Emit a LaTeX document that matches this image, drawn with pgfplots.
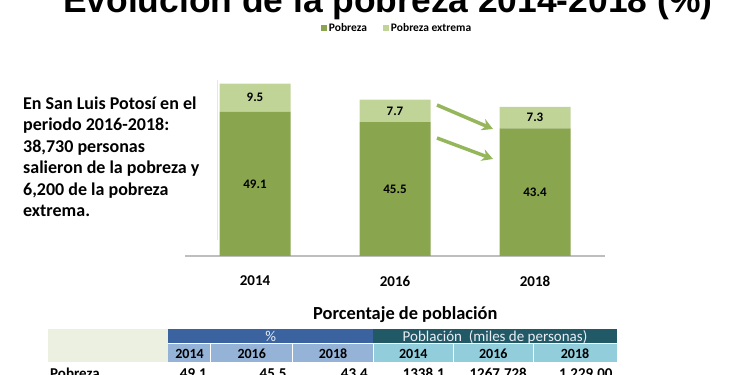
\documentclass[border=0pt]{standalone}
\usepackage{pgfplots}
\pgfplotsset{compat=1.18}
\usepackage{pgfplotstable}
\usepackage{fontspec}
\setmainfont{Carlito}
\newfontfamily\titlefont{Liberation Sans}
\usetikzlibrary{arrows.meta}
\definecolor{pobdark}{RGB}{137,165,78}
\definecolor{poblight}{RGB}{192,212,152}
\definecolor{arrowgreen}{RGB}{150,182,92}
\definecolor{tabbeige}{RGB}{235,240,224}
\definecolor{tabblue}{RGB}{58,99,160}
\definecolor{tablightblue}{RGB}{149,179,215}
\definecolor{tabteal}{RGB}{33,89,103}
\definecolor{tabcyan}{RGB}{146,205,220}
\definecolor{axisgray}{RGB}{190,190,190}
\definecolor{boxline}{RGB}{226,236,208}
\definecolor{headtext}{RGB}{235,238,245}
\pgfplotstableread{
x pob ext
0 49.1 9.5
1 45.5 7.7
2 43.4 7.3
}\datatable
\begin{document}
\begin{tikzpicture}[x=1pt,y=1pt]
\begin{axis}[
  at={(185pt,119pt)}, anchor=south west,
  scale only axis, width=420pt, height=176.4pt,
  ybar stacked, bar width=71pt,
  xmin=-0.5, xmax=2.5, ymin=0, ymax=60,
  axis x line=bottom, axis y line=none,
  x axis line style={draw=axisgray, line width=1.5pt, -},
  xtick={0,1,2}, xticklabels={2014,2016,2018},
  major tick length=0pt,
  xticklabel style={font=\bfseries\fontsize{15}{18}\selectfont, anchor=center, yshift=-25pt},
  ytick=\empty,
  clip=false,
  point meta=explicit,
  nodes near coords,
  nodes near coords style={font=\bfseries\fontsize{13}{15}\selectfont, anchor=center, text=black,
    /pgf/number format/assume math mode=true},
  legend style={at={(0.505,1.2925)}, anchor=center, draw=none, fill=none, legend columns=2,
    font=\bfseries\fontsize{11.5}{13}\selectfont, /tikz/every even column/.append style={column sep=14pt}},
  legend image code/.code={\fill[#1] (0pt,-3pt) rectangle (6pt,3pt);},
]
\addplot[fill=pobdark, draw=none] table[x=x, y=pob, meta=pob] {\datatable};
\addplot[fill=poblight, draw=none] table[x=x, y=ext, meta=ext] {\datatable};
\legend{Pobreza, Pobreza extrema}
\end{axis}
\useasboundingbox (0,0) rectangle (750,375);
\clip (0,0) rectangle (750,375);
% title (cut at top)
\node[anchor=base west, inner sep=0pt, font=\titlefont\bfseries\fontsize{35.4}{40}\selectfont] at (63,362.5) {Evolución de la pobreza 2014-2018 (\%)};
% left text
\foreach \t [count=\i from 0] in {En San Luis Potosí en el,periodo 2016-2018:,{38,730 personas},salieron de la pobreza y,{6,200 de la pobreza},extrema.}{
  \node[anchor=base west, inner sep=0pt, font=\bfseries\fontsize{18}{21}\selectfont] at (23,{265.7-\i*21.5}) {\t};
}
\draw[boxline, line width=0.8pt] (217,295) -- (217,135);
% arrows
\draw[arrowgreen, line width=3.5pt, -{Stealth[length=11pt, width=12pt]}] (437,270) -- (493,246);
\draw[arrowgreen, line width=3.5pt, -{Stealth[length=11pt, width=12pt]}] (437,237) -- (493,216);
% table title
\node[anchor=base west, inner sep=0pt, font=\bfseries\fontsize{18.4}{21}\selectfont] at (313,55) {Porcentaje de población};
% table
\fill[tabbeige] (48,13.3) rectangle (168.3,45.7);
\fill[tabblue] (168.3,31.7) rectangle (373.3,45.7);
\fill[tabteal] (373.3,31.7) rectangle (616.7,45.7);
\fill[tablightblue] (168.3,13.3) rectangle (373.3,31.7);
\fill[tabcyan] (373.3,13.3) rectangle (616.7,31.7);
\draw[white, line width=1pt] (168.3,31.7) -- (616.7,31.7);
\foreach \xx in {210.7,292.7,373.3,453.3,533.3}{\draw[white, line width=1pt] (\xx,13.3) -- (\xx,31.7);}
\node[anchor=base, inner sep=0pt, text=headtext, font=\fontsize{15}{17}\selectfont] at (270.8,33.5) {\%};
\node[anchor=base, inner sep=0pt, text=headtext, font=\fontsize{15}{17}\selectfont] at (495,33.5) {Población\ \ (miles de personas)};
\foreach \xx/\yy in {189.5/2014,251.7/2016,333/2018,413.3/2014,493.3/2016,575/2018}{
  \node[anchor=base, inner sep=0pt, font=\bfseries\fontsize{14}{16}\selectfont] at (\xx,16.7) {\yy};
}
\node[anchor=base west, inner sep=0pt, font=\bfseries\fontsize{15}{17}\selectfont] at (50,-4) {Pobreza};
\foreach \xx/\vv in {207/49.1,286.7/45.5,368/43.4,445/1338.1,527/1267.728,612.7/{1,229.00}}{
  \node[anchor=base east, inner sep=0pt, font=\bfseries\fontsize{15}{17}\selectfont] at (\xx,-4) {\vv};
}
\end{tikzpicture}
\end{document}
